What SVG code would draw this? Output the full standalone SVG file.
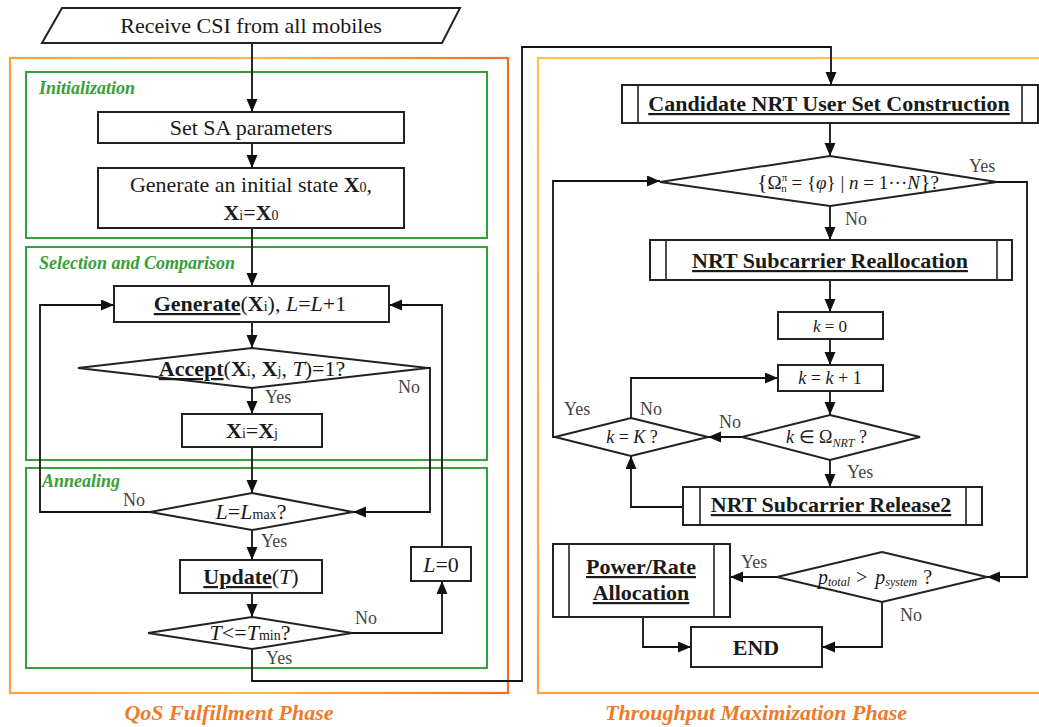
<svg xmlns="http://www.w3.org/2000/svg" width="1039" height="727" viewBox="0 0 1039 727" font-family="'Liberation Serif', 'Times New Roman', serif">
<style>
text{font-family:'Liberation Serif','Times New Roman',serif;fill:#1a1a1a}
.box{fill:#fff;stroke:#222;stroke-width:2}
.bar{fill:none;stroke:#222;stroke-width:1.6}
.grn{fill:none;stroke:#35a035;stroke-width:2}
.gl{font-size:18px;font-weight:bold;font-style:italic;fill:#35a035}
.ph{font-size:22px;font-weight:bold;font-style:italic;fill:#f07a2a}
.t{font-size:22px;text-anchor:middle}
.s{font-size:14px}
.b{font-weight:bold}
.u{text-decoration:underline}
.i{font-style:italic}
.lb{font-size:18px;fill:#444}
.c{fill:none;stroke:#111;stroke-width:1.8}
</style>
<defs>
<marker id="ah" markerUnits="userSpaceOnUse" markerWidth="14" markerHeight="12" refX="13" refY="5.5" orient="auto">
<path d="M0,0 L13,5.5 L0,11 z" fill="#111"/>
</marker>
<linearGradient id="ogL" x1="0" y1="0" x2="1" y2="0">
<stop offset="0" stop-color="#f9a23c"/>
<stop offset="0.5" stop-color="#fdb748"/>
<stop offset="1" stop-color="#f06b2a"/>
</linearGradient>
<linearGradient id="ogR" x1="0" y1="0" x2="0" y2="1">
<stop offset="0" stop-color="#ffc24c"/>
<stop offset="1" stop-color="#f8a23e"/>
</linearGradient>
</defs>
<rect width="1039" height="727" fill="#fff"/>

<!-- phase frames -->
<g id="phase-qos">
<rect x="10" y="58" width="498" height="635" fill="none" stroke="url(#ogL)" stroke-width="2.2"/>
<text class="ph" x="229" y="720" text-anchor="middle">QoS Fulfillment Phase</text>
</g>
<g id="phase-throughput">
<rect x="538" y="58" width="510" height="635" fill="none" stroke="url(#ogR)" stroke-width="2.2"/>
<text class="ph" x="756" y="720" text-anchor="middle">Throughput Maximization Phase</text>
</g>

<!-- green stage frames -->
<g id="stage-init">
<rect class="grn" x="26" y="72" width="461" height="166"/>
<text class="gl" x="39" y="94">Initialization</text>
</g>
<g id="stage-selection">
<rect class="grn" x="26" y="247" width="461" height="213"/>
<text class="gl" x="39" y="269">Selection and Comparison</text>
</g>
<g id="stage-annealing">
<rect class="grn" x="26" y="468" width="461" height="200"/>
<text class="gl" x="42" y="487">Annealing</text>
</g>

<!-- connectors -->
<g id="connectors">
<path class="c" d="M252,43 V112" marker-end="url(#ah)"/>
<path class="c" d="M252,143 V168" marker-end="url(#ah)"/>
<path class="c" d="M252,228 V286" marker-end="url(#ah)"/>
<path class="c" d="M252,322 V348" marker-end="url(#ah)"/>
<path class="c" d="M252,388 V414" marker-end="url(#ah)"/>
<path class="c" d="M252,447 V493" marker-end="url(#ah)"/>
<path class="c" d="M428,368 H430 V512 H353" marker-end="url(#ah)"/>
<path class="c" d="M150,512 H40 V305 H114" marker-end="url(#ah)"/>
<path class="c" d="M252,530 V560" marker-end="url(#ah)"/>
<path class="c" d="M252,593 V617" marker-end="url(#ah)"/>
<path class="c" d="M352,633 H442 V581" marker-end="url(#ah)"/>
<path class="c" d="M442,547 V305 H389" marker-end="url(#ah)"/>
<path class="c" d="M252,649 V681 H522 V47 H831 V85" marker-end="url(#ah)"/>

<path class="c" d="M830,123 V156" marker-end="url(#ah)"/>
<path class="c" d="M830,206 V240" marker-end="url(#ah)"/>
<path class="c" d="M830,280 V312" marker-end="url(#ah)"/>
<path class="c" d="M830,339 V365" marker-end="url(#ah)"/>
<path class="c" d="M830,391 V415" marker-end="url(#ah)"/>
<path class="c" d="M742,437 H708" marker-end="url(#ah)"/>
<path class="c" d="M830,460 V487" marker-end="url(#ah)"/>
<path class="c" d="M683,507 H631 V456" marker-end="url(#ah)"/>
<path class="c" d="M631,418 V378 H778" marker-end="url(#ah)"/>
<path class="c" d="M555,437 H553 V181 H660" marker-end="url(#ah)"/>
<path class="c" d="M997,182 H1027 V577 H987" marker-end="url(#ah)"/>
<path class="c" d="M777,577 H730" marker-end="url(#ah)"/>
<path class="c" d="M882,602 V647 H822" marker-end="url(#ah)"/>
<path class="c" d="M643,617 V647 H691" marker-end="url(#ah)"/>

<text class="lb" x="265" y="403">Yes</text>
<text class="lb" x="398" y="393">No</text>
<text class="lb" x="123" y="506">No</text>
<text class="lb" x="261" y="547">Yes</text>
<text class="lb" x="355" y="624">No</text>
<text class="lb" x="266" y="664">Yes</text>
<text class="lb" x="969" y="172">Yes</text>
<text class="lb" x="845" y="225">No</text>
<text class="lb" x="564" y="415">Yes</text>
<text class="lb" x="640" y="415">No</text>
<text class="lb" x="719" y="428">No</text>
<text class="lb" x="847" y="478">Yes</text>
<text class="lb" x="741" y="568">Yes</text>
<text class="lb" x="900" y="621">No</text>
</g>

<!-- left nodes -->
<g id="n-receive">
<polygon class="box" points="62,8 460,8 442,43 42,43"/>
<text class="t" x="251" y="33">Receive CSI from all mobiles</text>
</g>
<g id="n-setsa">
<rect class="box" x="98" y="112" width="306" height="31"/>
<text class="t" x="251" y="135">Set SA parameters</text>
</g>
<g id="n-initstate">
<rect class="box" x="98" y="168" width="306" height="60"/>
<text class="t" x="251" y="192">Generate an initial state <tspan class="b">X</tspan><tspan class="s">0</tspan>,</text>
<text class="t" x="251" y="220"><tspan class="b">X</tspan><tspan class="s">i</tspan>=<tspan class="b">X</tspan><tspan class="s">0</tspan></text>
</g>
<g id="n-generate">
<rect class="box" x="114" y="286" width="275" height="36"/>
<text class="t" x="250" y="311"><tspan class="b u">Generate</tspan>(<tspan class="b">X</tspan><tspan class="s">i</tspan>), <tspan class="i">L</tspan>=<tspan class="i">L</tspan>+1</text>
</g>
<g id="n-accept">
<polygon class="box" points="252,348 428,368 252,388 78,368"/>
<text class="t" x="252" y="376"><tspan class="b u">Accept</tspan>(<tspan class="b">X</tspan><tspan class="s">i</tspan>, <tspan class="b">X</tspan><tspan class="s">j</tspan>, <tspan class="i">T</tspan>)=1?</text>
</g>
<g id="n-xixj">
<rect class="box" x="182" y="414" width="140" height="33"/>
<text class="t" x="252" y="438"><tspan class="b">X</tspan><tspan class="s">i</tspan>=<tspan class="b">X</tspan><tspan class="s">j</tspan></text>
</g>
<g id="n-lmax">
<polygon class="box" points="252,493 353,512 252,530 150,512"/>
<text class="t" x="251" y="519"><tspan class="i">L</tspan>=<tspan class="i">L</tspan><tspan class="s">max</tspan>?</text>
</g>
<g id="n-update">
<rect class="box" x="180" y="560" width="142" height="33"/>
<text class="t" x="251" y="584"><tspan class="b u">Update</tspan>(<tspan class="i">T</tspan>)</text>
</g>
<g id="n-tmin">
<polygon class="box" points="252,617 352,633 252,649 148,633"/>
<text class="t" x="250" y="640"><tspan class="i">T</tspan>&lt;=<tspan class="i">T</tspan><tspan class="s">min</tspan>?</text>
</g>
<g id="n-l0">
<rect class="box" x="411" y="547" width="60" height="34"/>
<text class="t" x="441" y="572"><tspan class="i">L</tspan>=0</text>
</g>

<!-- right nodes -->
<g id="n-candidate">
<rect class="box" x="622" y="85" width="416" height="38"/>
<line class="bar" x1="638" y1="85" x2="638" y2="123"/>
<line class="bar" x1="1022" y1="85" x2="1022" y2="123"/>
<text class="t b u" x="829" y="111">Candidate NRT User Set Construction</text>
</g>
<g id="n-omega">
<polygon class="box" points="830,156 997,182 830,206 660,182"/>
<text x="757" y="189" style="font-size:19px"><tspan style="font-size:22px">{</tspan>Ω<tspan style="font-size:11px" dy="-8">π</tspan><tspan style="font-size:11px" dx="-6" dy="11">n</tspan><tspan dy="-3"> = {</tspan><tspan class="i">φ</tspan>} | <tspan class="i">n</tspan> = 1···<tspan class="i">N</tspan><tspan style="font-size:22px">}</tspan>?</text>
</g>
<g id="n-realloc">
<rect class="box" x="650" y="240" width="362" height="40"/>
<line class="bar" x1="666" y1="240" x2="666" y2="280"/>
<line class="bar" x1="997" y1="240" x2="997" y2="280"/>
<text class="t b u" x="830" y="268">NRT Subcarrier Reallocation</text>
</g>
<g id="n-k0">
<rect class="box" x="778" y="312" width="105" height="27"/>
<text class="t" x="830" y="332" style="font-size:17px"><tspan class="i">k</tspan> = 0</text>
</g>
<g id="n-kinc">
<rect class="box" x="778" y="365" width="105" height="26"/>
<text class="t" x="830" y="384" style="font-size:18px"><tspan class="i">k</tspan> = <tspan class="i">k</tspan> + 1</text>
</g>
<g id="n-kin">
<polygon class="box" points="830,415 920,437 830,460 742,437"/>
<text x="786" y="443" style="font-size:18px"><tspan class="i">k</tspan> ∈ Ω<tspan class="i" style="font-size:12px" dy="4">NRT</tspan><tspan dy="-4"> ?</tspan></text>
</g>
<g id="n-kK">
<polygon class="box" points="631,418 708,437 631,456 555,437"/>
<text class="t" x="632" y="443" style="font-size:18px"><tspan class="i">k</tspan> = <tspan class="i">K</tspan> ?</text>
</g>
<g id="n-release">
<rect class="box" x="683" y="487" width="299" height="38"/>
<line class="bar" x1="700" y1="487" x2="700" y2="525"/>
<line class="bar" x1="966" y1="487" x2="966" y2="525"/>
<text class="t b u" x="831" y="512">NRT Subcarrier Release2</text>
</g>
<g id="n-ptotal">
<polygon class="box" points="882,552 987,577 882,602 777,577"/>
<text x="818" y="584" style="font-size:20px"><tspan class="i">p</tspan><tspan class="i" style="font-size:12px" dy="2">total</tspan><tspan dy="-2" dx="6">&gt;</tspan><tspan class="i" dx="8">p</tspan><tspan class="i" style="font-size:12px" dy="2">system</tspan><tspan dy="-2" dx="6">?</tspan></text>
</g>
<g id="n-power">
<rect class="box" x="553" y="544" width="177" height="73"/>
<line class="bar" x1="569" y1="544" x2="569" y2="617"/>
<line class="bar" x1="714" y1="544" x2="714" y2="617"/>
<text class="t b u" x="641" y="574">Power/Rate</text>
<text class="t b u" x="641" y="600">Allocation</text>
</g>
<g id="n-end">
<rect class="box" x="691" y="627" width="131" height="40"/>
<text class="t b" x="756" y="655">END</text>
</g>
</svg>
